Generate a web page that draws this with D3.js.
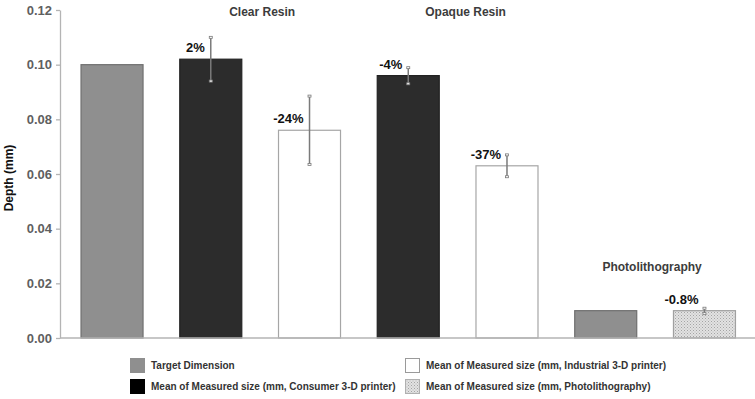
<!DOCTYPE html>
<html>
<head>
<meta charset="utf-8">
<script src="https://cdn.jsdelivr.net/npm/d3@7"></script>
<style>
  body { margin: 0; background: #fff; }
  svg { display: block; font-family: "Liberation Sans", Arial, sans-serif; }
</style>
</head>
<body>
<svg></svg>
<script>
// bars left to right
let barIds = ['clearTarget', 'clearConsumer', 'clearIndustrial', 'opaqueConsumer', 'opaqueIndustrial', 'photoTarget', 'photoMeasured'];
let barSeries = ['target', 'consumer', 'industrial', 'consumer', 'industrial', 'target', 'photo'];
let barValues = [0.100, 0.102, 0.076, 0.096, 0.063, 0.010, 0.010];
let errLow = [null, 0.094, 0.0635, 0.093, 0.059, null, 0.0089];
let errHigh = [null, 0.110, 0.0885, 0.0989, 0.067, null, 0.0109];
let pctLabels = ['', '2%', '-24%', '-4%', '-37%', '', '-0.8%'];

let groupNames = ['Clear Resin', 'Opaque Resin', 'Photolithography'];
let groupBars = [[1, 2], [3, 4], [5, 6]];

let yTicks = [0, 0.02, 0.04, 0.06, 0.08, 0.10, 0.12];

let legendKeys = ['target', 'industrial', 'consumer', 'photo'];
let legendLabels = [
    'Target Dimension',
    'Mean of Measured size (mm, Industrial 3-D printer)',
    'Mean of Measured size (mm, Consumer 3-D printer)',
    'Mean of Measured size (mm, Photolithography)'
];

let width = 755;
let height = 399;

let svg = d3.select('svg')
    .attr('width', width)
    .attr('height', height);

let defs = svg.append('defs');
let pat = defs.append('pattern')
    .attr('id', 'hatch')
    .attr('patternUnits', 'userSpaceOnUse')
    .attr('width', 3)
    .attr('height', 3);
pat.append('rect').attr('width', 3).attr('height', 3).attr('fill', '#e2e2e2');
pat.append('rect').attr('width', 1).attr('height', 1).attr('fill', '#a4a4a4');
pat.append('rect').attr('x', 1.5).attr('y', 1.5).attr('width', 1).attr('height', 1).attr('fill', '#b4b4b4');

let fills = { target: '#8f8f8f', consumer: '#2c2c2c', industrial: '#ffffff', photo: 'url(#hatch)' };
let strokes = { target: '#6f6f6f', consumer: '#222222', industrial: '#a6a6a6', photo: '#a0a0a0' };
let legendFills = { target: '#8f8f8f', consumer: '#000000', industrial: '#ffffff', photo: 'url(#hatch)' };
let legendStrokes = { target: '#8f8f8f', consumer: '#000000', industrial: '#9a9a9a', photo: '#b0b0b0' };

let xScale = d3.scaleBand()
    .domain(barIds)
    .range([60, 756.5])
    .paddingInner(0.372)
    .paddingOuter(0.213);

let yScale = d3.scaleLinear()
    .domain([0, 0.12])
    .range([338, 10]);

// y axis
let yAxis = d3.axisLeft(yScale)
    .tickValues(yTicks)
    .tickFormat(d3.format('.2f'))
    .tickSizeInner(4)
    .tickSizeOuter(0)
    .tickPadding(4);

let yg = svg.append('g')
    .attr('transform', 'translate(60,0)')
    .call(yAxis);
yg.select('.domain').attr('stroke', '#b4b4b4').attr('stroke-width', 1.3);
yg.selectAll('.tick line').attr('stroke', '#b4b4b4').attr('stroke-width', 1.3);
yg.selectAll('.tick text')
    .attr('fill', '#5f5f5f')
    .style('font-size', '13px')
    .style('font-weight', 'bold')
    .style('font-family', '"Liberation Sans", Arial, sans-serif');

svg.append('text')
    .attr('transform', 'translate(13,178) rotate(-90)')
    .attr('text-anchor', 'middle')
    .style('font-size', '12px')
    .style('font-weight', 'bold')
    .attr('fill', '#111')
    .text('Depth (mm)');

// bars
svg.selectAll('rect.bar')
    .data(barIds)
    .enter()
    .append('rect')
    .attr('class', 'bar')
    .attr('x', (d) => xScale(d))
    .attr('y', (d, i) => yScale(barValues[i]))
    .attr('width', xScale.bandwidth())
    .attr('height', (d, i) => yScale(0) - yScale(barValues[i]))
    .attr('fill', (d, i) => fills[barSeries[i]])
    .attr('stroke', (d, i) => strokes[barSeries[i]])
    .attr('stroke-width', 1.2);

// x axis line
svg.append('line')
    .attr('x1', 60)
    .attr('x2', width)
    .attr('y1', yScale(0))
    .attr('y2', yScale(0))
    .attr('stroke', '#b4b4b4')
    .attr('stroke-width', 1.5);

// error bars
let errIdx = barIds.map((d, i) => i).filter((i) => errLow[i] !== null);
let eg = svg.append('g')
    .attr('stroke', '#7a7a7a')
    .attr('fill', 'none');
errIdx.forEach((i) => {
    let cx = xScale(barIds[i]) + xScale.bandwidth() / 2;
    let y1 = yScale(errHigh[i]);
    let y2 = yScale(errLow[i]);
    eg.append('line').attr('x1', cx).attr('x2', cx).attr('y1', y1).attr('y2', y2).attr('stroke-width', 1.5);
    eg.append('rect').attr('x', cx - 1.5).attr('y', y1 - 1).attr('width', 3).attr('height', 2).attr('fill', '#fff').attr('stroke-width', 0.8);
    eg.append('rect').attr('x', cx - 1.5).attr('y', y2 - 1).attr('width', 3).attr('height', 2).attr('fill', '#fff').attr('stroke-width', 0.8);
});

// percent labels
svg.selectAll('text.pct')
    .data(barIds)
    .enter()
    .append('text')
    .attr('class', 'pct')
    .attr('x', (d) => xScale(d) + xScale.bandwidth() / 2 - 6)
    .attr('y', (d, i) => yScale(barValues[i]) - 7)
    .attr('text-anchor', 'end')
    .style('font-size', '13px')
    .style('font-weight', 'bold')
    .attr('fill', '#111')
    .text((d, i) => pctLabels[i]);

// group titles
let groupTitleY = [16, 16, 271];
let groupTitleShift = [2, 8, -3];
svg.selectAll('text.group')
    .data(groupNames)
    .enter()
    .append('text')
    .attr('class', 'group')
    .attr('x', (d, i) => {
        let a = xScale(barIds[groupBars[i][0]]) + xScale.bandwidth() / 2;
        let b = xScale(barIds[groupBars[i][1]]) + xScale.bandwidth() / 2;
        return (a + b) / 2 + groupTitleShift[i];
    })
    .attr('y', (d, i) => groupTitleY[i])
    .attr('text-anchor', 'middle')
    .style('font-size', '12px')
    .style('font-weight', 'bold')
    .attr('fill', '#3c3c3c')
    .text((d) => d);

// legend
let legendX = [130, 405];
let legendY = [358, 379];
let legend = svg.append('g').attr('id', 'legend');
legendKeys.forEach((k, i) => {
    let col = i % 2;
    let row = Math.floor(i / 2);
    let item = legend.append('g')
        .attr('transform', 'translate(' + legendX[col] + ',' + legendY[row] + ')');
    item.append('rect')
        .attr('x', 0.5)
        .attr('y', 0.5)
        .attr('width', 14)
        .attr('height', 14)
        .attr('fill', legendFills[k])
        .attr('stroke', legendStrokes[k])
        .attr('stroke-width', 1);
    item.append('text')
        .attr('x', 21)
        .attr('y', 11)
        .style('font-size', '10px')
        .style('font-weight', 'bold')
        .attr('fill', '#333')
        .text(legendLabels[i]);
});
</script>
</body>
</html>
